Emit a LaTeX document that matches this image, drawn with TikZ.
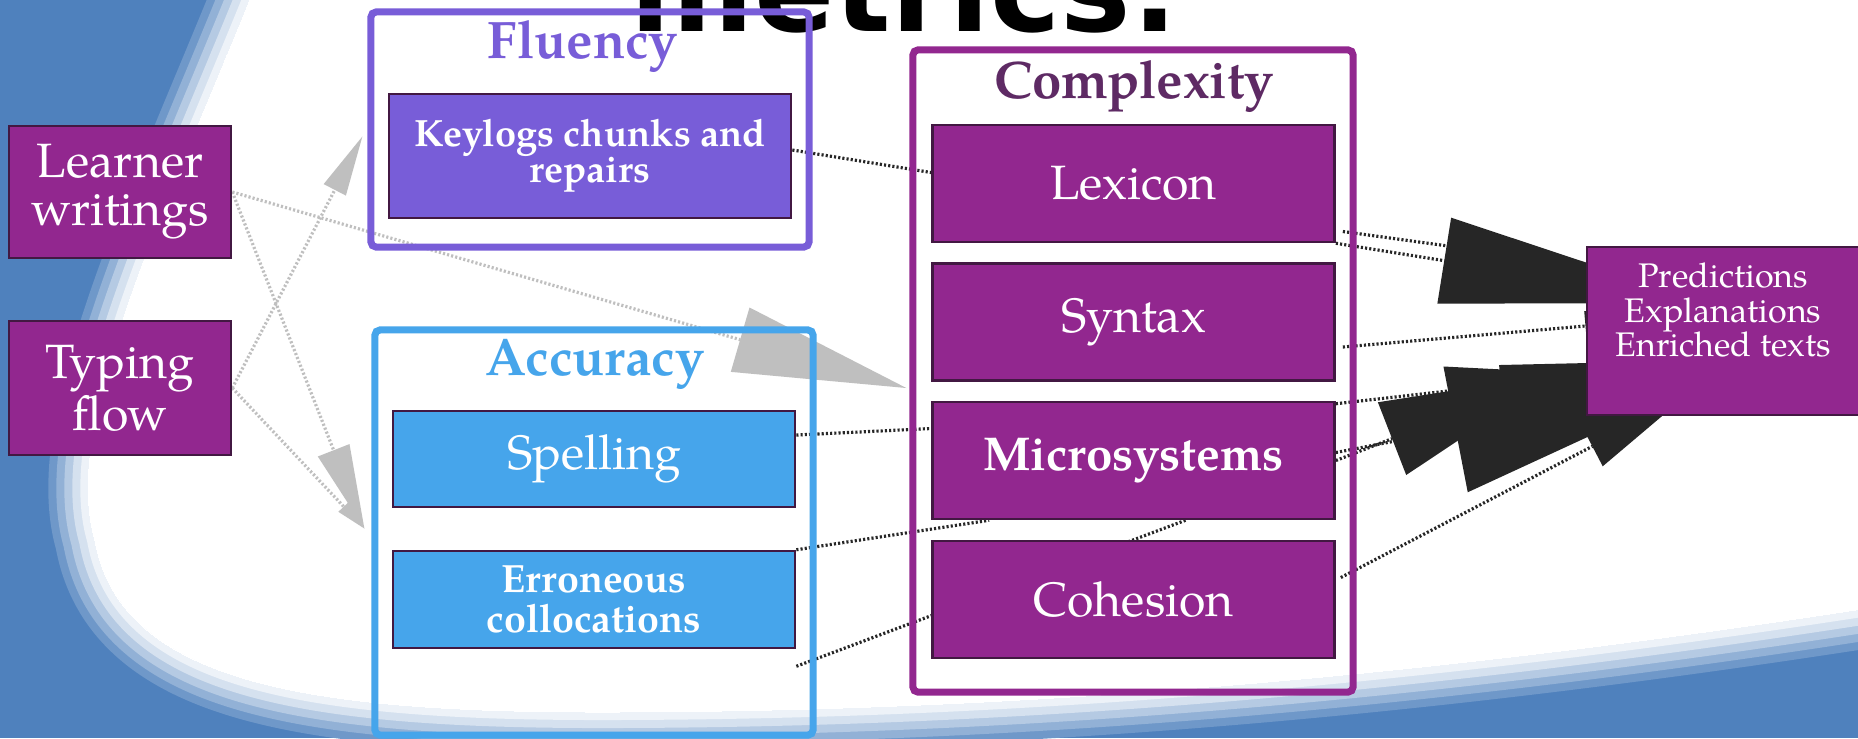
\documentclass[tikz,border=0pt]{standalone}
\usepackage{fontspec}
\setmainfont{TeX Gyre Pagella}
\newfontfamily\headfont{DejaVu Sans}
\usetikzlibrary{arrows.meta,calc,backgrounds}

\definecolor{bgblue}{RGB}{79,129,189}
\definecolor{boxpurple}{RGB}{146,39,143}
\definecolor{boxline}{RGB}{66,24,66}
\definecolor{fluviolet}{RGB}{120,93,216}
\definecolor{accblue}{RGB}{70,165,235}
\definecolor{cpxtitle}{RGB}{94,42,100}
\definecolor{arrgray}{RGB}{191,191,191}
\definecolor{arrblack}{RGB}{38,38,38}

\tikzset{
	box/.style={draw=boxline, line width=0.7pt, text=white, align=center, inner sep=0pt, minimum width=4.02cm},
	metricbox/.style={box, fill=boxpurple, minimum height=1.17cm, font=\fontsize{13.7}{13.6}\selectfont},
	groupframe/.style={line width=2pt, rounded corners=1.5pt, inner sep=0pt},
	grouptitle/.style={anchor=base, inner sep=0pt, font=\fontsize{15}{18}\selectfont\bfseries},
	grayline/.style={draw=arrgray, line width=0.9pt, dash pattern=on 0.6pt off 0.6pt},
	blackline/.style={draw=arrblack, line width=0.9pt, dash pattern=on 0.6pt off 0.6pt},
	head/.style 2 args={-{Triangle[length=#1, width=#2, line width=0pt]}},
}

\begin{document}
\begin{tikzpicture}[x=0.01cm,y=-0.01cm]
	\useasboundingbox (0,0) rectangle (1858,738);

	% inputs
	\node[metricbox, minimum width=2.22cm, minimum height=1.32cm] (learner) at (120,192) {Learner\\writings};
	\node[metricbox, minimum width=2.22cm, minimum height=1.34cm] (typing) at (120,388) {Typing\\flow};

	% fluency
	\node[groupframe, draw=fluviolet, minimum width=4.38cm, minimum height=2.35cm] (fluency) at (590,129.5) {};
	\node[grouptitle, text=fluviolet] (flutitle) at (583,58) {Fluency};
	\node[box, fill=fluviolet, minimum height=1.24cm, font=\fontsize{10.8}{10.2}\selectfont\bfseries] (keylogs) at (590,156) {Keylogs chunks and\\repairs};

	% accuracy
	\node[groupframe, draw=accblue, minimum width=4.38cm, minimum height=4.05cm] (accuracy) at (594,532.5) {};
	\node[grouptitle, text=accblue] (acctitle) at (595,375) {Accuracy};
	\node[box, fill=accblue, minimum height=0.96cm, font=\fontsize{13.7}{13.6}\selectfont] (spelling) at (594,459) {Spelling};
	\node[box, fill=accblue, minimum height=0.97cm, font=\fontsize{11.2}{11.6}\selectfont\bfseries] (colloc) at (594,599.5) {Erroneous\\collocations};

	% complexity
	\node[groupframe, draw=boxpurple, minimum width=4.40cm, minimum height=6.42cm] (complexity) at (1133,371) {};
	\node[grouptitle, text=cpxtitle] (cpxtitle) at (1134,98) {Complexity};
	\node[metricbox] (lexicon) at (1133.5,183.5) {Lexicon};
	\node[metricbox] (syntax) at (1133.5,322) {Syntax};
	\node[metricbox, font=\fontsize{13.5}{13.6}\selectfont\bfseries] (micro) at (1133.5,460.5) {Microsystems};
	\node[metricbox] (cohesion) at (1133.5,599.5) {Cohesion};

	% output
	\node[box, fill=boxpurple, minimum width=2.72cm, minimum height=1.68cm] (pred) at (1723,331) {};
	\node[anchor=north, inner sep=0pt, text=white, align=center, font=\fontsize{9.7}{9.9}\selectfont] (predtext) at ($(pred.north)+(0,16)$) {Predictions\\Explanations\\Enriched texts};

	\begin{scope}[on background layer]
		% backdrop
		\fill[bgblue] (0,0) rectangle (1858,738);
		\foreach \f/\m in {40/18,32/38,24/58,16/76,8/90,0/100}
			\filldraw[line width=\f*0.02cm, color=white!\m!bgblue] (262,-30) .. controls (170,200) and (60,420) .. (95,540) .. controls (120,680) and (300,712) .. (600,712) .. controls (1100,712) and (1550,660) .. (1950,595) -- (1950,-30) -- cycle;
		\node[anchor=base west, inner sep=0pt, font=\headfont\bfseries\fontsize{33.7}{40}\selectfont] (heading) at (630,31) {metrics:};

		% gray arrows
		\draw[grayline, head={1.73cm}{0.67cm}] (learner.east) -- ($(complexity.west)+(-3,17)$);
		\draw[grayline, head={0.84cm}{0.34cm}] (learner.east) -- ($(accuracy.west)+(-7,-4)$);
		\draw[grayline, head={0.3cm}{0.15cm}] (typing.east) -- ($(accuracy.west)+(-7,-4)$);
		\draw[grayline, head={0.6cm}{0.25cm}] (typing.east) -- ($(fluency.west)+(-5,7)$);

		% dotted links
		\draw[blackline] ($(keylogs.east)+(0,-6)$) -- ($(lexicon.west)+(0,-11)$);
		\draw[blackline] ($(spelling.east)+(0,-24)$) -- ($(micro.west)+(0,-32)$);
		\draw[blackline] (colloc.north east) -- ($(micro.south west)+(58,0)$);
		\coordinate (accfoot) at ($(colloc.south east)+(0,17)$);
		\draw[blackline] (accfoot) -- ($(micro.south)+(52,0)$);

		% black arrows
		\draw[blackline] ($(lexicon.east)+(7,48)$) -- ($(pred.west)+(0,-66)$);
		\draw[blackline, head={2.67cm}{0.87cm}] (lexicon.south east) -- ($(pred.center)+(-15,-28)$);
		\draw[blackline, head={1.5cm}{0.3cm}] ($(syntax.east)+(7,25)$) -- ($(pred.center)+(12,-18)$);
		\draw[blackline, head={2.2cm}{0.4cm}] ($(micro.north east)+(0,3)$) -- ($(pred.center)+(-3,29)$);
		\draw[blackline, head={2.6cm}{1.28cm}] ($(micro.east)+(0,-8)$) -- ($(pred.center)+(-12,49)$);
		\draw[blackline, head={1.78cm}{0.78cm}] (micro.east) -- ($(pred.center)+(-165,43)$);
		\draw[blackline, head={1.0cm}{0.45cm}] ($(cohesion.east)+(5,-22)$) -- ($(pred.center)+(-42,69)$);
	\end{scope}
\end{tikzpicture}
\end{document}
